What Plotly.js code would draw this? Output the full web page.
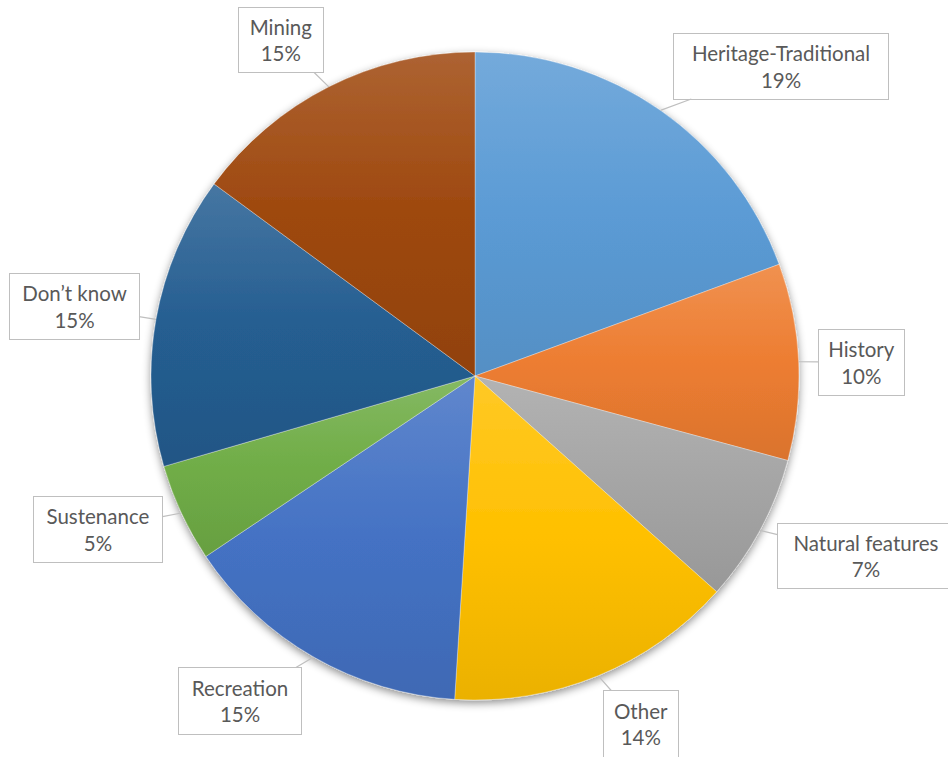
<!DOCTYPE html>
<html>
<head>
<meta charset="utf-8">
<script src="https://cdn.plot.ly/plotly-3.0.1.min.js"></script>
<style>
  html, body { margin: 0; padding: 0; background: #ffffff; }
  #chart { width: 948px; height: 757px; }
</style>
</head>
<body>
<div id="chart"></div>
<script>
// ---- data ----
const categories = ["Heritage-Traditional", "History", "Natural features", "Other",
                    "Recreation", "Sustenance", "Don\u2019t know", "Mining"];
const shares = [19.4, 9.8, 7.4, 14.4, 14.6, 4.9, 14.6, 14.9];

// ---- style ----
const sliceColors = ["#5B9BD5", "#ED7D31", "#A5A5A5", "#FFC000",
                     "#4472C4", "#70AD47", "#255E91", "#9E480E"];
// callout box centres (pixels) and box sizes (layout only)
const calloutCenters = [[781, 66], [861, 362], [866, 556], [641, 724],
                        [240, 701], [98, 529], [74, 306], [281, 40]];
const calloutSizes = [[216, 67], [87, 67], [178, 66], [76, 68],
                      [124, 68], [130, 67], [131, 67], [86, 66]];

const W = 948, H = 757;
const pieDomain = { x: [151 / W, 799 / W], y: [(H - 700) / H, (H - 52) / H] };

// pie geometry derived from the domain
const cx = (pieDomain.x[0] + pieDomain.x[1]) / 2 * W;
const cy = (1 - (pieDomain.y[0] + pieDomain.y[1]) / 2) * H;
const R = Math.min((pieDomain.x[1] - pieDomain.x[0]) * W, (pieDomain.y[1] - pieDomain.y[0]) * H) / 2;

const total = shares.reduce((a, b) => a + b, 0);
const annotations = [];
let cum = 0;
shares.forEach((v, i) => {
  const theta = 2 * Math.PI * (cum + v / 2) / total;
  cum += v;
  const px = cx + R * Math.sin(theta);
  const py = cy - R * Math.cos(theta);
  const pct = Math.round(v / total * 100);
  const [bx, by] = calloutCenters[i];
  const [bw, bh] = calloutSizes[i];
  annotations.push({
    xref: "paper", yref: "paper",
    x: px / W, y: 1 - py / H,
    ax: bx - px, ay: by - py,
    text: categories[i] + "<br>" + pct + "%",
    showarrow: true, arrowhead: 0, arrowwidth: 1.2, arrowcolor: "#bfbfbf",
    standoff: 0, startstandoff: 0,
    bgcolor: "#ffffff", bordercolor: "#bfbfbf", borderwidth: 1, borderpad: 0,
    width: bw - 2, height: bh - 2,
    align: "center", valign: "middle",
    font: { family: "Lato, 'Open Sans', sans-serif", size: 20.5, color: "#595959" }
  });
});

const trace = {
  type: "pie",
  labels: categories,
  values: shares,
  sort: false,
  direction: "clockwise",
  rotation: 0,
  textinfo: "none",
  hoverinfo: "label+percent",
  domain: pieDomain,
  marker: { colors: sliceColors, line: { color: "rgba(255,255,255,0.55)", width: 0.6 } }
};

const layout = {
  width: W, height: H,
  margin: { l: 0, r: 0, t: 0, b: 0 },
  paper_bgcolor: "#ffffff",
  showlegend: false,
  annotations: annotations
};

function hexToRgb(h) {
  const n = parseInt(h.slice(1), 16);
  return [(n >> 16) & 255, (n >> 8) & 255, n & 255];
}
function mix(rgb, target, t) {
  return "rgb(" + rgb.map((c, k) => Math.round(c + (target[k] - c) * t)).join(",") + ")";
}

Plotly.newPlot("chart", [trace], layout, { displayModeBar: false, staticPlot: true }).then(gd => {
  const svg = gd.querySelector("svg.main-svg");
  const NS = "http://www.w3.org/2000/svg";
  let defs = svg.querySelector("defs");
  if (!defs) { defs = document.createElementNS(NS, "defs"); svg.insertBefore(defs, svg.firstChild); }
  // drop shadow
  const filt = document.createElementNS(NS, "filter");
  filt.setAttribute("id", "pieShadow");
  filt.setAttribute("x", "-10%"); filt.setAttribute("y", "-10%");
  filt.setAttribute("width", "120%"); filt.setAttribute("height", "125%");
  const ds = document.createElementNS(NS, "feDropShadow");
  ds.setAttribute("dx", "0"); ds.setAttribute("dy", "3");
  ds.setAttribute("stdDeviation", "4");
  ds.setAttribute("flood-color", "#000"); ds.setAttribute("flood-opacity", "0.45");
  filt.appendChild(ds);
  defs.appendChild(filt);

  const paths = gd.querySelectorAll(".pielayer .slice path.surface");
  paths.forEach((p, i) => {
    const rgb = hexToRgb(sliceColors[i]);
    const g = document.createElementNS(NS, "linearGradient");
    g.setAttribute("id", "sliceGrad" + i);
    g.setAttribute("x1", "0"); g.setAttribute("y1", "0");
    g.setAttribute("x2", "0"); g.setAttribute("y2", "1");
    [[0, mix(rgb, [255, 255, 255], 0.15)], [0.5, mix(rgb, [0, 0, 0], 0.0)], [1, mix(rgb, [0, 0, 0], 0.08)]]
      .forEach(([o, c]) => {
        const s = document.createElementNS(NS, "stop");
        s.setAttribute("offset", o);
        s.setAttribute("stop-color", c);
        g.appendChild(s);
      });
    defs.appendChild(g);
    p.style.setProperty("fill", "url(#sliceGrad" + i + ")");
  });
  const tr = gd.querySelector(".pielayer .trace");
  if (tr) tr.setAttribute("filter", "url(#pieShadow)");
});
</script>
</body>
</html>
